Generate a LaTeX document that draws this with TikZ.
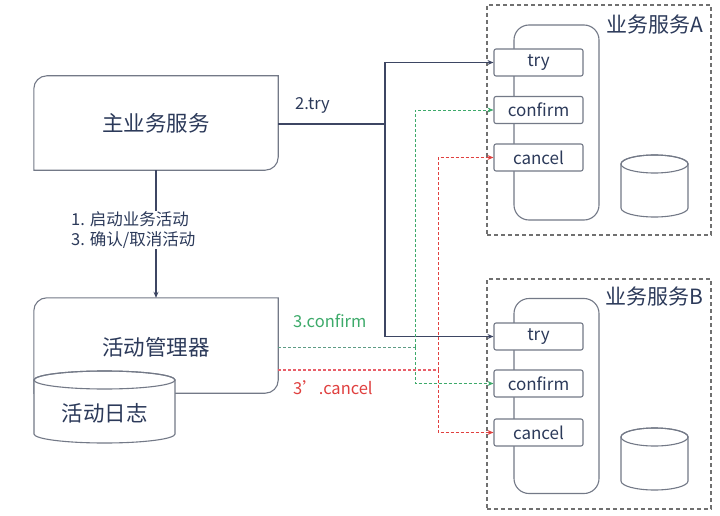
\documentclass[tikz,border=0pt]{standalone}
\usepackage{fontspec}
\setmainfont{Noto Sans CJK SC}
\usetikzlibrary{arrows.meta,calc}
\definecolor{ink}{HTML}{2C3A5A}
\definecolor{boxc}{HTML}{737987}
\definecolor{edgec}{HTML}{3D4663}
\definecolor{framec}{HTML}{707070}
\definecolor{okgreen}{HTML}{3DAA6A}
\definecolor{mutegreen}{HTML}{5E9C86}
\definecolor{badred}{HTML}{E0403F}
\definecolor{pinkred}{HTML}{E8606A}
\newcommand\halfroundbox[2]{%
  \draw[boxc, line width=1.1pt, fill=white] (#1.south west) -- ($(#1.north west)+(0,-#2)$)
    arc[start angle=180, end angle=90, radius=#2] -- (#1.north east)
    -- ($(#1.south east)+(0,#2)$) arc[start angle=0, end angle=-90, radius=#2] -- cycle;}
\newcommand\drumshape[5]{% cx, topcy, botcy, rx, ry
  \draw[boxc, line width=1.1pt, fill=white] ({#1-#4},-#2) -- ({#1-#4},-#3)
    arc[start angle=180, end angle=360, x radius=#4, y radius=#5] -- ({#1+#4},-#2)
    arc[start angle=0, end angle=180, x radius=#4, y radius=#5] -- cycle;
  \draw[boxc, line width=1.1pt] (#1,-#2) ellipse[x radius=#4, y radius=#5];}
\tikzset{
  bigtext/.style={text=ink, font=\fontsize{21.5}{25}\selectfont},
  mainshape/.style={draw=none, inner sep=0pt, minimum width=244pt, bigtext},
  lbl/.style={font=\fontsize{16.5}{20}\selectfont, inner sep=1pt},
  opbox/.style={draw=boxc, line width=1.1pt, fill=white, rounded corners=2pt, minimum width=89pt,
    minimum height=27pt, inner sep=0pt, text=ink, font=\fontsize{17}{20}\selectfont},
  stackbox/.style={draw=boxc, line width=1.1pt, rounded corners=15pt, minimum width=85pt,
    minimum height=195pt, inner sep=0pt},
  svcframe/.style={draw=framec, line width=1.2pt, dash pattern=on 4pt off 3pt, minimum width=224pt,
    minimum height=230pt, inner sep=0pt},
  svctitle/.style={text=ink, font=\fontsize{21}{24}\selectfont, inner sep=0pt},
  tryline/.style={draw=edgec, line width=1.1pt},
  tryarrow/.style={tryline, -{Stealth[length=6pt,width=5pt]}},
  confline/.style={draw=okgreen, line width=0.9pt, dash pattern=on 3pt off 2pt},
  confarrow/.style={confline, -{Stealth[length=6pt,width=5pt]}},
  cancline/.style={draw=badred, line width=0.9pt, dash pattern=on 3pt off 2pt},
  cancarrow/.style={cancline, -{Stealth[length=6pt,width=5pt]}},
}
\begin{document}
\begin{tikzpicture}[x=1pt, y=1pt]
\useasboundingbox[fill=white] (0,0) rectangle (720,-516);

% service frames
\node[svcframe] (svcA) at (599,-120) {};
\node[svcframe] (svcB) at (599,-394) {};
\node[svctitle, anchor=east] (titleA) at (703,-25) {业务服务A};
\node[svctitle, anchor=east] (titleB) at (703,-297) {业务服务B};

% stacks
\node[stackbox] (stackA) at (556.5,-122.5) {};
\node[stackbox] (stackB) at (556.5,-396) {};

% databases
\drumshape{654.5}{164}{208}{33.5}{9}
\drumshape{654.5}{437}{481}{33.5}{9}

% op boxes
\node[opbox] (tryA) at (538.5,-62.5) {try};
\node[opbox] (confA) at (538.5,-110) {confirm};
\node[opbox] (cancA) at (538.5,-157.5) {cancel};
\node[opbox] (tryB) at (538.5,-336.5) {try};
\node[opbox] (confB) at (538.5,-383.5) {confirm};
\node[opbox] (cancB) at (538.5,-432.5) {cancel};

% main service and manager
\node[mainshape, minimum height=94pt] (main) at (156,-123) {};
\halfroundbox{main}{13}
\node[bigtext] (maintext) at (main.center) {主业务服务};

\node[mainshape, minimum height=95pt] (mgr) at (156,-345.5) {};
\halfroundbox{mgr}{13}
\node[bigtext] (mgrtext) at (156,-347) {活动管理器};

% log drum
\drumshape{104.5}{380}{434}{70.5}{9}
\node[bigtext] (log) at (104.5,-413) {活动日志};

% main -> manager
\draw[tryarrow] (main.south) -- (mgr.north);
\node[lbl, text=ink, fill=white, align=left, anchor=west] (steps) at (70,-230)
  {1. 启动业务活动\\3. 确认/取消活动};

% try lines
\coordinate (tj) at (385,-124);
\draw[tryline] (main.east |- tj) -- (tj);
\draw[tryarrow] (tj) |- (tryA.west);
\draw[tryarrow] (tj) |- (tryB.west);
\node[lbl, text=ink, anchor=west] (trylbl) at (294,-105) {2.try};

% confirm lines
\coordinate (gj) at (415,-347);
\draw[confline, draw=mutegreen] (mgr.east |- gj) -- (gj);
\draw[confarrow] (gj) |- (confA.west);
\draw[confarrow] (gj) |- (confB.west);
\node[lbl, text=okgreen, anchor=west] (conflbl) at (292,-321) {3.confirm};

% cancel lines
\coordinate (rj) at (438,-370);
\draw[cancline, draw=pinkred, line width=2.2pt, dash pattern=on 3pt off 2pt] (mgr.east |- rj) -- (rj);
\draw[cancarrow] (rj) |- (cancA.west);
\draw[cancarrow] (rj) |- (cancB.west);
\node[lbl, text=badred, anchor=west] (canclbl) at (292,-388) {3’.cancel};
\end{tikzpicture}
\end{document}
